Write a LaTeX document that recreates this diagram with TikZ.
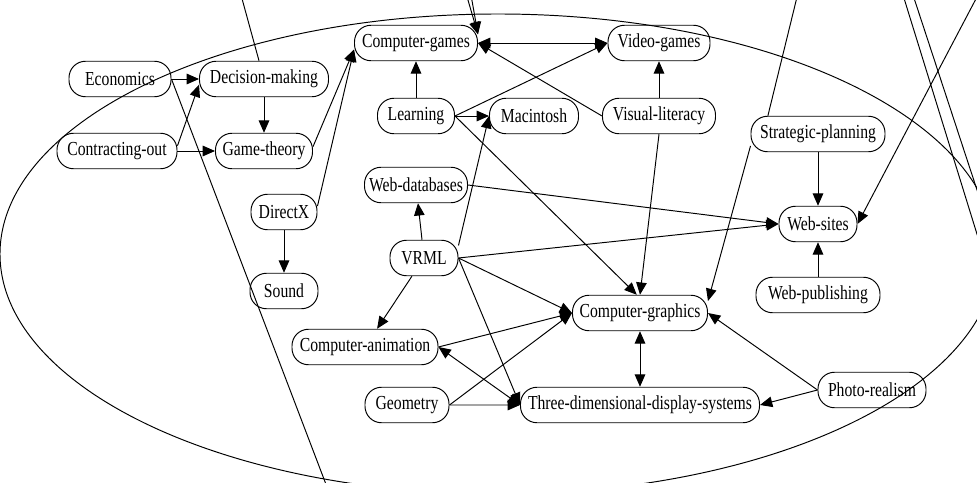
\documentclass[tikz,border=0pt]{standalone}
\usepackage{fontspec}
\setmainfont{Liberation Serif}[FakeStretch=0.79]
\usetikzlibrary{arrows.meta}
\usetikzlibrary{positioning}

\begin{document}
\begin{tikzpicture}[>={Triangle[length=7pt,width=6pt]},line width=0.55pt,on grid,
    topic/.style={draw,rounded corners=0.33cm,minimum height=0.71cm,inner xsep=1pt,
                  font=\fontsize{11.3}{13}\selectfont}]
    \useasboundingbox (0,0) rectangle (19.54,9.64);
    \clip (0,0) rectangle (19.54,9.64);

    \node[topic,minimum width=2.04cm] (econ) at (2.40,8.06) {Economics};
    \node[topic,minimum width=2.58cm] [right=2.88cm of econ] (decision) {Decision-making};
    \node[topic,minimum width=2.40cm] (contract) at (2.34,6.62) {Contracting-out};
    \node[topic,minimum width=1.94cm] [below=1.44cm of decision] (game) {Game-theory};
    \node[topic,minimum width=1.32cm] (directx) at (5.68,5.40) {DirectX};
    \node[topic,minimum width=1.36cm] [below=1.58cm of directx] (sound) {Sound};
    \node[topic,minimum width=2.46cm] (cgames) at (8.32,8.78) {Computer-games};
    \node[topic,minimum width=1.54cm] [below=1.46cm of cgames] (learning) {Learning};
    \node[topic,minimum width=1.78cm] [right=2.36cm of learning] (mac) {Macintosh};
    \node[topic,minimum width=2.04cm] [right=4.86cm of cgames] (vgames) {Video-games};
    \node[topic,minimum width=2.26cm] [below=1.46cm of vgames] (visual) {Visual-literacy};
    \node[topic,minimum width=2.68cm] (strategic) at (16.36,6.96) {Strategic-planning};
    \node[topic,minimum width=1.56cm] [below=1.80cm of strategic] (websites) {Web-sites};
    \node[topic,minimum width=2.48cm] [below=1.42cm of websites] (webpub) {Web-publishing};
    \node[topic,minimum width=2.06cm] (webdb) at (8.32,5.94) {Web-databases};
    \node[topic,minimum width=1.36cm] (vrml) at (8.48,4.48) {VRML};
    \node[topic,minimum width=2.70cm] (cgraphics) at (12.80,3.38) {Computer-graphics};
    \node[topic,minimum width=4.78cm] [below=1.84cm of cgraphics] (threed) {Three-dimensional-display-systems};
    \node[topic,minimum width=2.92cm] (canim) at (7.30,2.70) {Computer-animation};
    \node[topic,minimum width=1.68cm] (geometry) at (8.14,1.54) {Geometry};
    \node[topic,minimum width=2.16cm] (photo) at (17.44,1.84) {Photo-realism};

    % ends of edges that leave the picture
    \coordinate (dmtop) at (4.82,9.74);
    \coordinate (ecbot) at (6.54,-0.10);
    \coordinate (cgtopa) at (9.33,9.74);
    \coordinate (cgtopb) at (9.42,9.74);
    \coordinate (sptop) at (15.95,9.74);
    \coordinate (wstop) at (19.56,9.74);
    \coordinate (para) at (18.06,9.74);
    \coordinate (parb) at (18.26,9.74);
    \coordinate (paraend) at (19.70,4.44);
    \coordinate (parbend) at (20.00,4.44);

    \path[->]
    (econ) edge (decision)
    (contract.5) edge (decision.185)
    (contract) edge (game)
    (decision) edge (game)
    (game.5) edge (cgames.186)
    (directx.10) edge (cgames.186)
    (directx) edge (sound)
    (learning) edge (cgames)
    (learning) edge (mac)
    (learning.east) edge (vgames.west)
    (learning.east) edge (cgraphics.100)
    (visual.west) edge (cgames.east)
    (visual) edge (vgames)
    (visual.south) edge (cgraphics.north)
    (strategic) edge (websites)
    (strategic.190) edge (cgraphics.10)
    (webpub) edge (websites)
    (webdb.east) edge (websites.west)
    (vrml) edge (webdb)
    (vrml.20) edge (mac.west)
    (vrml.east) edge (websites.west)
    (vrml.east) edge (cgraphics.west)
    (vrml) edge (canim)
    (vrml.east) edge (threed.west)
    (canim.east) edge (cgraphics.west)
    (geometry.east) edge (cgraphics.west)
    (geometry) edge (threed)
    (photo.west) edge (cgraphics.east)
    (photo.west) edge (threed.east)
    (cgtopa) edge (cgames.8)
    (cgtopb) edge (cgames.8)
    (wstop) edge (websites.east);
    \path[<->]
    (cgames) edge (vgames)
    (canim.east) edge (threed.west)
    (cgraphics) edge (threed);

    \draw (decision) -- (dmtop);
    \draw (econ.east) -- (ecbot);
    \draw (strategic.160) -- (sptop);
    \draw (para) -- (paraend);
    \draw (parb) -- (parbend);

    % the big cluster outline
    \draw (9.96,4.56) ellipse [x radius=9.96cm,y radius=4.80cm];
\end{tikzpicture}
\end{document}
